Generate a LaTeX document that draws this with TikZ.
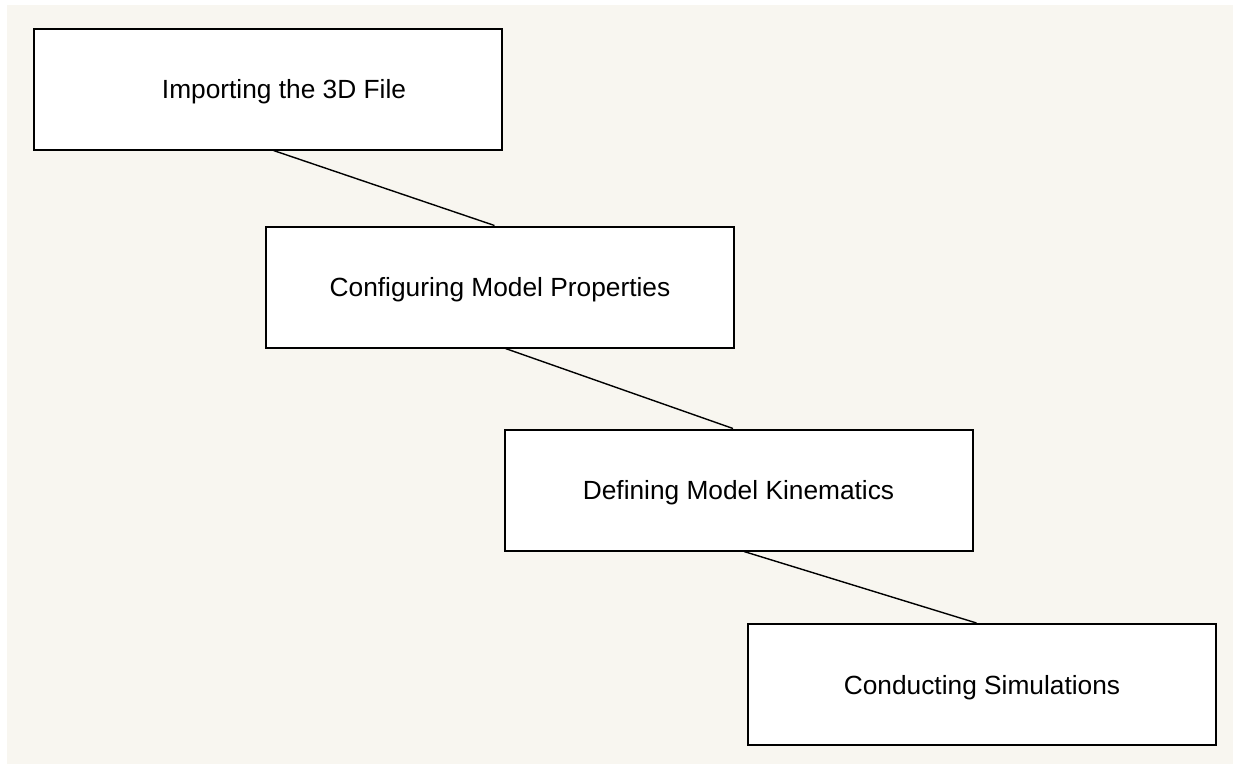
\documentclass[tikz,border=0pt]{standalone}
\usepackage{xcolor}
\usepackage{fontspec}
\setmainfont{Liberation Sans}
\usepackage{tikz}
\usetikzlibrary{calc}
\usetikzlibrary{arrows.meta}
\usetikzlibrary{positioning}
\definecolor{canvas}{RGB}{248,246,240}
\tikzstyle{stage} = [rectangle, draw=black, line width=2pt, fill=white, inner sep=0, minimum width=468pt, minimum height=121pt, text depth=0pt, font=\fontsize{26.3}{30}\selectfont]
\tikzstyle{link} = [-, line width=1.4pt, draw=black]

\begin{document}
\begin{tikzpicture}[x=1pt, y=-1pt]
\useasboundingbox (0,0) rectangle (1233,764);
\fill [white] (0,0) rectangle (1233,764);
\fill [canvas] (7,5) rectangle (1233,764);
%\node at (600,10) {steps};
\node [stage] (imp) at (268, 89) {\hspace*{32pt}Importing the 3D File};
\node [stage] (conf) at (500, 287) {Configuring Model Properties};
\node [stage] (kin) at (738.5, 490) {Defining Model Kinematics};
\node [stage] (sim) at (982, 684.5) {Conducting Simulations};
\draw [link] ([xshift=5.5pt]imp.south) to ([xshift=-5.5pt]conf.north);
\draw [link] ([xshift=5.5pt]conf.south) to ([xshift=-5.5pt]kin.north);
\draw [link] ([xshift=5.5pt]kin.south) to ([xshift=-5.5pt]sim.north);
\end{tikzpicture}
\end{document}
